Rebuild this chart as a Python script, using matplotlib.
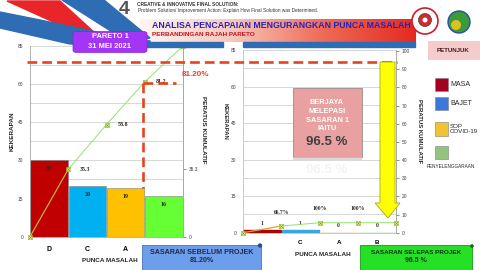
import matplotlib
matplotlib.use('Agg')
import matplotlib.pyplot as plt
import numpy as np
from matplotlib.patches import Rectangle, FancyBboxPatch, Polygon, Ellipse
from matplotlib.lines import Line2D
from matplotlib.colors import LinearSegmentedColormap

plt.rcParams['font.family'] = ['Liberation Sans', 'DejaVu Sans']

# ---------------- data ----------------
categories = ['D', 'C', 'A', 'B']
before_counts = [30, 20, 19, 16]
before_cum_pct = [0, 35.3, 58.8, 81.2, 100]
after_counts = [1, 1, 0, 0]
after_cum_pct = [0, 66.7, 100, 100, 100]
before_colors = ['#C00000', '#00B0F0', '#FFC000', '#66FF33']
after_colors = ['#B00000', '#3AA5DE', '#C9A456', '#7CC576']
left_ticks = [0, 15, 30, 45, 60, 75]
left_tick_labels = ['0', '15', '30', '45', '60', '85']
before_right_ticks = [0, 35.3, 100]
after_right_ticks = list(range(0, 101, 10))
legend_labels = ['MASA', 'BAJET', 'SOP\nCOVID-19', '']
legend_colors = ['#A50021', '#3C78D8', '#F1C232', '#93C47D']
target_before = '81.20%'
target_after = '96.5 %'

W, H = 480, 270
fig = plt.figure(figsize=(4.8, 2.7), dpi=100)
fig.patch.set_facecolor('white')


def fx(x):
    return x / W


def fy(y):
    return 1 - y / H


def rect(x0, y0, x1, y1):
    return [fx(x0), fy(y1), fx(x1) - fx(x0), fy(y0) - fy(y1)]


def fpoly(pts, **kw):
    p = Polygon([(fx(a), fy(b)) for a, b in pts], closed=True,
                transform=fig.transFigure, **kw)
    fig.patches.append(p)
    return p


def frect(x0, y0, x1, y1, **kw):
    p = Rectangle((fx(x0), fy(y1)), fx(x1) - fx(x0), fy(y0) - fy(y1),
                  transform=fig.transFigure, **kw)
    fig.patches.append(p)
    return p


def fcircle(cx, cy, r, **kw):
    p = Ellipse((fx(cx), fy(cy)), 2 * r / W, 2 * r / H, transform=fig.transFigure, **kw)
    fig.patches.append(p)
    return p


def fline(xs, ys, **kw):
    l = Line2D([fx(a) for a in xs], [fy(b) for b in ys],
               transform=fig.transFigure, **kw)
    fig.lines.append(l)
    return l


def ftext(x, y, s, **kw):
    kw.setdefault('ha', 'center')
    kw.setdefault('va', 'center')
    return fig.text(fx(x), fy(y), s, **kw)


# ---------------- header ----------------
fpoly([(7, 1), (60, 1), (96, 34), (82, 35)], color='#E8262A', zorder=1)
fpoly([(62, 0), (104, 0), (150, 38), (128, 42)], color='#2E6DB4', zorder=1)
fpoly([(0, 12), (0, 28), (70, 44), (150, 47), (150, 41), (115, 36), (40, 20)],
      color='#2E6DB4', zorder=1)

gax = fig.add_axes(rect(140, 19, 415, 42))
cmap = LinearSegmentedColormap.from_list('g', ['#FFF6F3', '#F8C7BC', '#EE6A55', '#E52A22'])
gax.imshow(np.linspace(0, 1, 256)[None, :], aspect='auto', cmap=cmap, extent=(0, 1, 0, 1))
gax.axis('off')

frect(140, 42, 223, 46.5, color='#2E6DB4', zorder=1)
frect(243, 42, 415, 46.5, color='#2E6DB4', zorder=1)

ftext(124, 9, '4', fontsize=14, fontweight='bold', color='#555555')
ftext(137, 5, 'CREATIVE & INNOVATIVE FINAL SOLUTION:', ha='left', fontsize=3.4,
      fontweight='bold', color='#333333')
ftext(138, 10.7, 'Problem Solution/ Improvement Action: Explain How Final Solution was Determined.',
      ha='left', fontsize=3.4, color='#333333')
ftext(152, 25, 'ANALISA PENCAPAIAN MENGURANGKAN PUNCA MASALAH', ha='left', fontsize=6.3,
      fontweight='bold', color='#2424B8', zorder=5)
ftext(152, 34.5, 'PERBANDINGAN RAJAH PARETO', ha='left', fontsize=4.6,
      fontweight='bold', color='#C0141C', zorder=5)

# logos
fcircle(425, 21, 13, facecolor='white', edgecolor='#C8202A', lw=1.2, zorder=2)
fcircle(425, 20, 6.5, facecolor='#D02A2A', edgecolor='#404040', lw=0.5, zorder=3)
fcircle(425, 20, 2.5, facecolor='white', edgecolor='none', zorder=3)
fcircle(459, 22, 11, facecolor='#3C9A3C', edgecolor='#2A4FA0', lw=1.0, zorder=2)
fcircle(456, 25, 5, facecolor='#E0C020', edgecolor='none', zorder=3)

# ---------------- left pareto (before) ----------------
x = np.arange(len(categories))
xs = np.arange(len(before_cum_pct)) - 0.5
left_xlabels = [c if i < 3 else '' for i, c in enumerate(categories)]
right_xlabels = [c if i > 0 else '' for i, c in enumerate(categories)]

ax1 = fig.add_axes(rect(30, 46, 183, 236.7))
ax1.bar(x, before_counts, width=0.98, color=before_colors, edgecolor='#7F7F7F',
        linewidth=0.4, zorder=2)
for i, v in enumerate(before_counts):
    ax1.annotate(str(v), (i, v), xytext=(0, -6), textcoords='offset points',
                 ha='center', va='center', fontsize=4.3, fontweight='bold',
                 family='Liberation Serif', color='#262626', zorder=3)
ax1.set_xlim(-0.5, 3.5)
ax1.set_ylim(0, 75)
ax1.set_yticks(left_ticks)
ax1.set_yticklabels(left_tick_labels)
ax1.set_yticks(np.arange(0, 76, 7.5), minor=True)
ax1.grid(axis='y', which='both', color='#C8C8C8', lw=0.5, zorder=0)
ax1.tick_params(axis='y', which='both', labelsize=3.5, length=0, pad=5, colors='#404040')
ax1.set_xticks(x)
ax1.set_xticklabels(left_xlabels, fontsize=5, fontweight='bold')
ax1.tick_params(axis='x', length=0, pad=7)
ax1.spines['top'].set_visible(False)
for s in ['left', 'bottom', 'right']:
    ax1.spines[s].set_color('#A6A6A6')
    ax1.spines[s].set_linewidth(0.6)

ax1b = ax1.twinx()
ax1b.set_ylim(0, 100)
ax1b.set_yticks(before_right_ticks)
ax1b.set_yticklabels(['0', '35.3', '100'])
ax1b.tick_params(axis='y', labelsize=3.5, length=2, width=0.4, pad=2, colors='#404040')
for s in ['top', 'left', 'bottom']:
    ax1b.spines[s].set_visible(False)
ax1b.spines['right'].set_color('#A6A6A6')
ax1b.spines['right'].set_linewidth(0.6)
ax1b.plot(xs[:2], before_cum_pct[:2], color='#C9B037', lw=0.9, clip_on=False)
ax1b.plot(xs[1:], before_cum_pct[1:], color='#92E36A', lw=0.7, clip_on=False)
ax1b.plot(xs, before_cum_pct, ls='none', marker='s', ms=3.5, mfc='#EEF07C',
          mec='#8CB43A', mew=0.4, clip_on=False)
ax1b.plot(xs, before_cum_pct, ls='none', marker='x', ms=2.4, mec='#5E9E2A',
          mew=0.4, clip_on=False)
for xi, c in zip(xs[1:-1], before_cum_pct[1:-1]):
    ax1b.annotate(f'{c:.1f}', (xi, c), xytext=(8, 0), textcoords='offset points',
                  ha='left', va='center', fontsize=4.3, fontweight='bold',
                  family='Liberation Serif', color='#262626')

# ---------------- right pareto (after) ----------------
ax2 = fig.add_axes(rect(243, 50.2, 396, 232.7))
ax2.bar(x, after_counts, width=0.98, color=after_colors, edgecolor=after_colors,
        linewidth=1.0, zorder=2)
for i, v in enumerate(after_counts):
    ax2.annotate(str(v), (i, v), xytext=(0, 5), textcoords='offset points',
                 ha='center', va='center', fontsize=4.0, fontweight='bold',
                 family='Liberation Serif', color='#262626')
ax2.set_xlim(-0.5, 3.5)
ax2.set_ylim(0, 75)
ax2.set_yticks(left_ticks)
ax2.set_yticklabels(left_tick_labels)
ax2.set_yticks(np.arange(0, 76, 7.5), minor=True)
ax2.grid(axis='y', which='both', color='#C8C8C8', lw=0.5, zorder=0)
ax2.tick_params(axis='y', which='both', labelsize=3.5, length=0, pad=5, colors='#404040')
ax2.set_xticks(x)
ax2.set_xticklabels(right_xlabels, fontsize=4.5, fontweight='bold')
ax2.tick_params(axis='x', length=0, pad=5)
ax2.spines['top'].set_visible(False)
for s in ['left', 'bottom', 'right']:
    ax2.spines[s].set_color('#BFBFBF')
    ax2.spines[s].set_linewidth(0.6)

ax2r = ax2.twinx()
ax2r.set_ylim(0, 100.5)
ax2r.set_yticks(after_right_ticks)
ax2r.tick_params(axis='y', labelsize=3.5, length=2, width=0.4, pad=2, colors='#404040')
for s in ['top', 'left', 'bottom']:
    ax2r.spines[s].set_visible(False)
ax2r.spines['right'].set_color('#A6A6A6')
ax2r.spines['right'].set_linewidth(0.6)

ax2l = ax2.twinx()
ax2l.set_ylim(0, 1830)
ax2l.axis('off')
ax2l.plot(xs[:2], after_cum_pct[:2], color='#C9B037', lw=0.9, clip_on=False)
ax2l.plot(xs[1:], after_cum_pct[1:], color='#92E36A', lw=0.7, clip_on=False)
ax2l.plot(xs, after_cum_pct, ls='none', marker='s', ms=3.5, mfc='#EEF07C',
          mec='#8CB43A', mew=0.4, clip_on=False)
ax2l.plot(xs, after_cum_pct, ls='none', marker='x', ms=2.4, mec='#5E9E2A',
          mew=0.4, clip_on=False)
for xi, c in zip(xs[1:-1], after_cum_pct[1:-1]):
    ax2l.annotate(f'{c:g}%', (xi, c), xytext=(0, 10), textcoords='offset points',
                  ha='center', va='center', fontsize=4.0, fontweight='bold',
                  family='Liberation Serif', color='#262626')

# axis titles
ftext(12, 131, 'KEKERAPAN', rotation=90, fontsize=4.6, fontweight='bold', color='#262626')
ftext(203, 130, 'PERATUS KUMULATIF', rotation=270, fontsize=4.6, fontweight='bold', color='#262626')
ftext(110, 261, 'PUNCA MASALAH', fontsize=4.6, fontweight='bold', color='#262626')
ftext(225, 121, 'KEKERAPAN', rotation=270, fontsize=4.2, fontweight='bold', color='#262626')
ftext(420, 131, 'PERATUS KUMULATIF', rotation=270, fontsize=4.3, fontweight='bold', color='#262626')
ftext(323, 255, 'PUNCA MASALAH', fontsize=4.6, fontweight='bold', color='#262626')

# ---------------- overlays ----------------
red = '#E8431F'
fline([27, 397], [62, 62], color=red, lw=1.9, ls=(0, (3.7, 1.9)), zorder=4)
fline([143, 176], [83, 83], color=red, lw=1.9, ls=(0, (3.7, 1.9)), zorder=4)
fline([143, 143], [83, 188], color=red, lw=1.9, ls=(0, (3.7, 1.9)), zorder=4)
ftext(195, 75, target_before, fontsize=5.8, fontweight='bold', color=red, zorder=5)

# PARETO 1 box
pb = FancyBboxPatch((fx(73), fy(52.5)), fx(147) - fx(73), fy(31.5) - fy(52.5),
                    boxstyle='round,pad=0,rounding_size=0.008', transform=fig.transFigure,
                    facecolor='#A335F5', edgecolor='#8A22D8', lw=0.5, zorder=5)
fig.patches.append(pb)
ftext(110, 36.5, 'PARETO 1', fontsize=5.4, fontweight='bold', color='white', zorder=6)
ftext(110, 46.5, '31 MEI 2021', fontsize=5.4, fontweight='bold', color='white', zorder=6)

# yellow arrow
fpoly([(380, 62), (395, 62), (395, 203), (400, 203), (388, 218), (375, 203), (380, 203)],
      facecolor='#FFFF00', edgecolor='#A8A820', lw=0.6, zorder=6)

# pink success box
frect(293, 88, 361.5, 157, facecolor='#E8A0A0', edgecolor='#9A8A8A', lw=0.6, zorder=5)
frect(293, 157, 361.5, 160, facecolor='#CFC8C8', edgecolor='none', zorder=5, alpha=0.7)
for yy, s in zip([102, 111.3, 120, 128], ['BERJAYA', 'MELEPASI', 'SASARAN 1', 'IAITU']):
    ftext(327, yy, s, fontsize=5.3, fontweight='bold', color='white', zorder=6)
ftext(327, 142, target_after, fontsize=9.5, fontweight='bold', color='#3F3F3F', zorder=6)
ftext(327, 170, target_after, fontsize=9.5, fontweight='bold', color='#3F3F3F',
      alpha=0.06, zorder=6)

# legend
frect(428, 41, 481, 60, facecolor='#F4CCCC', edgecolor='none', zorder=5)
ftext(453, 51, 'PETUNJUK', fontsize=4.4, fontweight='bold', color='#4A1A1A', zorder=6)
for (y0, y1), lab, col in zip([(78, 91), (97, 110), (122, 136), (146, 159)],
                              legend_labels, legend_colors):
    frect(435, y0, 448, y1, facecolor=col, edgecolor='#7F7F7F', lw=0.4, zorder=5)
    if lab:
        ftext(450, (y0 + y1) / 2, lab, ha='left', fontsize=5.0 if '\n' not in lab else 4.4,
              color='#262626', zorder=6, linespacing=1.1)
ftext(451, 166.5, 'PENYELENGGARAAN', fontsize=3.3, color='#262626', zorder=6)

# bottom target boxes
frect(141.5, 245, 260.5, 271, facecolor='#6D9EEB', edgecolor='#4A74B8', lw=0.6, zorder=7)
fcircle(260, 245.5, 2.2, facecolor='#2A4A8A', edgecolor='none', zorder=8)
ftext(202, 252.3, 'SASARAN SEBELUM PROJEK', fontsize=5.1, fontweight='bold',
      color='#1F2A44', zorder=8)
ftext(202, 261, target_before, fontsize=5.1, fontweight='bold', color='#1F2A44', zorder=8)

frect(360, 245.5, 472, 271, facecolor='#25E025', edgecolor='#169A16', lw=0.6, zorder=7)
fcircle(472, 246, 1.8, facecolor='#146A14', edgecolor='none', zorder=8)
ftext(416, 252, 'SASARAN SELEPAS PROJEK', fontsize=4.6, fontweight='bold',
      color='#10301A', zorder=8)
ftext(416, 260.5, target_after, fontsize=5.0, fontweight='bold', color='#10301A', zorder=8)

fig.savefig('out.png', dpi=100, facecolor=fig.get_facecolor())
